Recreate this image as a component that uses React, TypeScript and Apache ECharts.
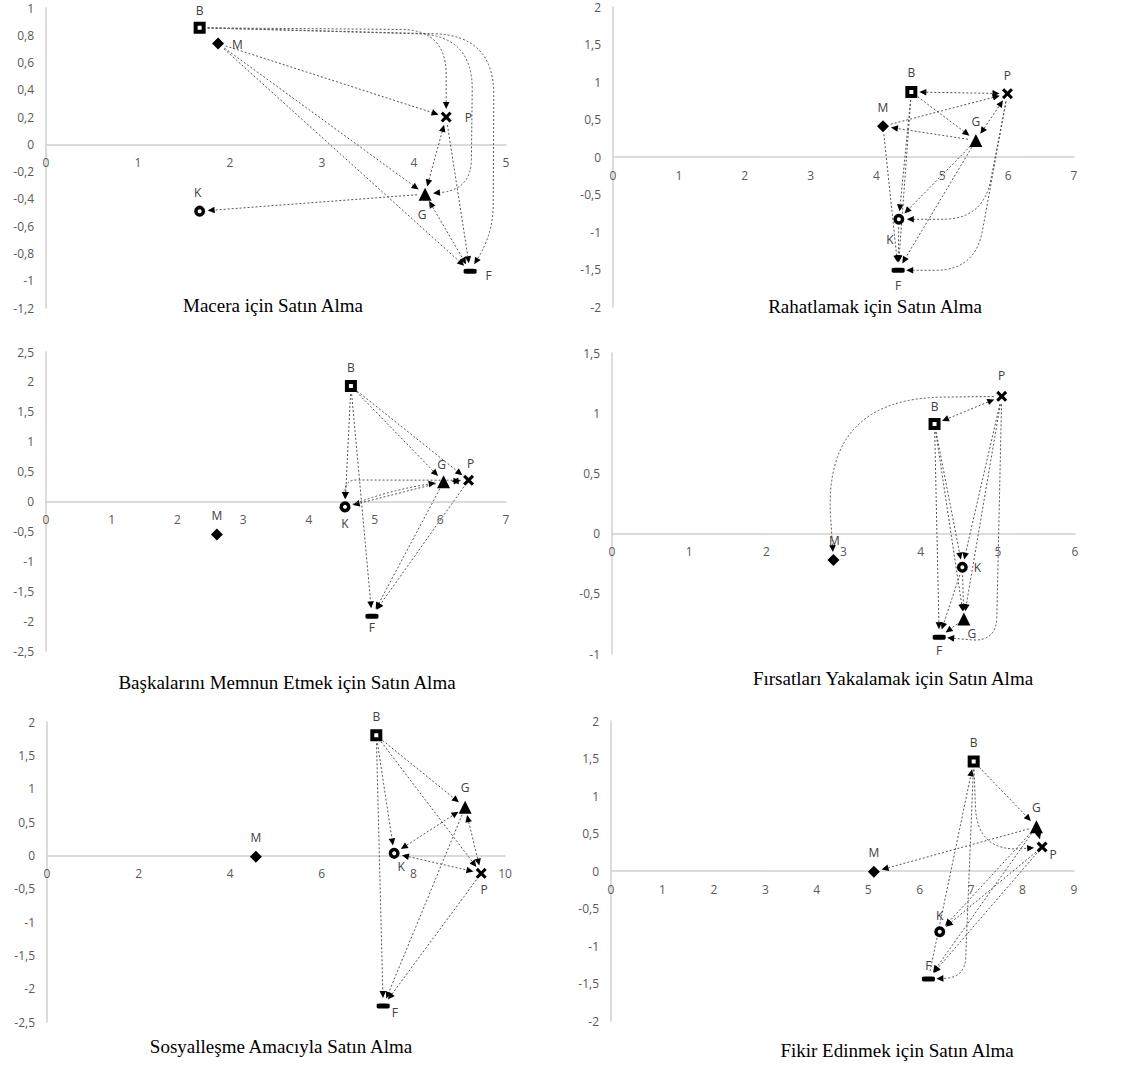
import React, { useEffect, useRef } from "react";
import * as echarts from "echarts";

// ---------- DATA ----------
const pointNames = ["B", "M", "P", "G", "K", "F"];

const titles = [
  "Macera için Satın Alma",
  "Rahatlamak için Satın Alma",
  "Başkalarını Memnun Etmek için Satın Alma",
  "Fırsatları Yakalamak için Satın Alma",
  "Sosyalleşme Amacıyla Satın Alma",
  "Fikir Edinmek için Satın Alma",
];

// x / y values of points in order B, M, P, G, K, F
const maceraX = [1.67, 1.87, 4.35, 4.12, 1.67, 4.61];
const maceraY = [0.855, 0.74, 0.2, -0.365, -0.49, -0.93];
const rahatX = [4.53, 4.1, 5.99, 5.51, 4.34, 4.33];
const rahatY = [0.867, 0.41, 0.845, 0.22, -0.83, -1.51];
const baskaX = [4.64, 2.6, 6.43, 6.05, 4.55, 4.96];
const baskaY = [1.93, -0.55, 0.355, 0.33, -0.09, -1.92];
const firsatX = [4.18, 2.87, 5.05, 4.56, 4.54, 4.24];
const firsatY = [0.91, -0.22, 1.14, -0.71, -0.28, -0.86];
const sosyalX = [7.19, 4.56, 9.48, 9.13, 7.58, 7.34];
const sosyalY = [1.8, -0.02, -0.27, 0.72, 0.03, -2.26];
const fikirX = [7.05, 5.11, 8.38, 8.27, 6.39, 6.17];
const fikirY = [1.46, -0.01, 0.32, 0.59, -0.81, -1.44];

// axis ranges [xMax, xInterval, yMin, yMax, yInterval]
const axisRanges = [
  [5, 1, -1.2, 1, 0.2],
  [7, 1, -2, 2, 0.5],
  [7, 1, -2.5, 2.5, 0.5],
  [6, 1, -1, 1.5, 0.5],
  [10, 2, -2.5, 2, 0.5],
  [9, 1, -2, 2, 0.5],
];

// edges: [from, to, heads (1 = end, 2 = both), bend points, corner radius]
type Edge = [string, string, number, number[][]?, number?];
const maceraEdges: Edge[] = [
  ["B", "P", 1, [[4.35, 0.84]], 45],
  ["B", "G", 1, [[4.64, 0.8], [4.62, -0.33]], 55],
  ["B", "F", 1, [[4.87, 0.8], [4.86, -0.65]], 60],
  ["M", "P", 1],
  ["M", "G", 1],
  ["M", "F", 1],
  ["G", "K", 1],
  ["G", "P", 2],
  ["P", "F", 1],
  ["G", "F", 2],
];
const rahatEdges: Edge[] = [
  ["B", "P", 2],
  ["M", "P", 1],
  ["G", "M", 1],
  ["B", "G", 1],
  ["G", "P", 2],
  ["B", "K", 1],
  ["G", "K", 1],
  ["B", "F", 1],
  ["G", "F", 1],
  ["P", "K", 1, [[5.62, -0.83]], 40],
  ["P", "F", 1, [[5.5, -1.51]], 40],
  ["M", "F", 1],
  ["K", "F", 1],
];
const baskaEdges: Edge[] = [
  ["B", "K", 1],
  ["B", "F", 1],
  ["B", "G", 1],
  ["B", "P", 1],
  ["G", "K", 1],
  ["K", "G", 1, [[5.3, 0.2]], 60],
  ["P", "K", 1, [[4.55, 0.36]], 40],
  ["G", "P", 2],
  ["G", "F", 1],
  ["P", "F", 1],
];
const firsatEdges: Edge[] = [
  ["P", "B", 2],
  ["P", "M", 1, [[2.73, 1.12]], 120],
  ["B", "K", 1],
  ["P", "K", 1],
  ["B", "G", 1],
  ["K", "G", 1],
  ["P", "G", 1],
  ["B", "F", 1],
  ["K", "F", 1],
  ["G", "F", 1],
  ["P", "F", 1, [[4.98, -0.9]], 25],
];
const sosyalEdges: Edge[] = [
  ["B", "K", 1],
  ["B", "G", 1],
  ["B", "P", 1],
  ["B", "F", 1],
  ["K", "G", 2],
  ["K", "P", 2],
  ["G", "P", 2],
  ["G", "F", 1],
  ["P", "F", 1],
];
const fikirEdges: Edge[] = [
  ["B", "G", 1],
  ["G", "M", 1],
  ["F", "B", 1],
  ["B", "P", 1, [[7.12, 0.25]], 45],
  ["B", "F", 1, [[6.88, -1.42]], 20],
  ["G", "K", 1],
  ["P", "K", 1],
  ["G", "F", 1],
  ["P", "F", 1],
  ["G", "P", 1],
];

// ---------- STYLE / LAYOUT ----------
const panelX = [maceraX, rahatX, baskaX, firsatX, sosyalX, fikirX];
const panelY = [maceraY, rahatY, baskaY, firsatY, sosyalY, fikirY];
const panelEdges = [maceraEdges, rahatEdges, baskaEdges, firsatEdges, sosyalEdges, fikirEdges];

const layouts = [
  { left: 46, top: 8, width: 460, height: 300, tx: 273, ty: 305 },
  { left: 613, top: 7, width: 461, height: 300, tx: 875, ty: 306 },
  { left: 46, top: 352, width: 460, height: 299, tx: 287, ty: 682 },
  { left: 612, top: 353, width: 463, height: 301, tx: 893, ty: 678 },
  { left: 47, top: 722, width: 458, height: 300, tx: 281, ty: 1046 },
  { left: 611, top: 721, width: 463, height: 300, tx: 897, ty: 1050 },
];

type LabelPos = [string, number[]];
const labelPos: Record<string, LabelPos>[] = [
  { B: ["top", [0, 0]], M: ["right", [3, 1]], P: ["right", [8, 0]], G: ["bottom", [-3, 3]], K: ["top", [-2, -2]], F: ["right", [4, 4]] },
  { B: ["top", [0, -2]], M: ["top", [0, -2]], P: ["top", [0, -2]], G: ["top", [0, -2]], K: ["bottom", [-9, 4]], F: ["bottom", [0, 2]] },
  { B: ["top", [0, -2]], M: ["top", [0, -2]], P: ["top", [2, 0]], G: ["top", [-2, 0]], K: ["bottom", [0, 0]], F: ["bottom", [0, -2]] },
  { B: ["top", [0, -1]], M: ["top", [1, -3]], P: ["top", [0, -4]], G: ["bottom", [8, -3]], K: ["right", [1, 0]], F: ["bottom", [0, 0]] },
  { B: ["top", [0, -2]], M: ["top", [0, -2]], P: ["bottom", [3, 0]], G: ["top", [0, -2]], K: ["bottom", [7, -3]], F: ["right", [-3, 6]] },
  { B: ["top", [0, -2]], M: ["top", [0, -2]], P: ["right", [-3, 7]], G: ["top", [0, -2]], K: ["top", [0, 0]], F: ["top", [0, 0]] },
];

const symbolStyles: Record<string, any> = {
  B: { symbol: "rect", symbolSize: 8, itemStyle: { color: "#ffffff", borderColor: "#000", borderWidth: 4, opacity: 1 } },
  M: { symbol: "diamond", symbolSize: 12, itemStyle: { color: "#000", opacity: 1 } },
  P: {
    symbol: "path://M0,2 L2,0 L5,3 L8,0 L10,2 L7,5 L10,8 L8,10 L5,7 L2,10 L0,8 L3,5 Z",
    symbolSize: 11,
    itemStyle: { color: "#000", opacity: 1 },
  },
  G: { symbol: "triangle", symbolSize: 13, itemStyle: { color: "#000", opacity: 1 } },
  K: { symbol: "circle", symbolSize: 7.5, itemStyle: { color: "#ffffff", borderColor: "#000", borderWidth: 3.5, opacity: 1 } },
  F: { symbol: "roundRect", symbolSize: [13, 5], itemStyle: { color: "#000", opacity: 1 } },
};

const fmt = (v: number) => String(Math.round(v * 100) / 100).replace(".", ",");

function unit(a: number[], b: number[]) {
  const dx = b[0] - a[0];
  const dy = b[1] - a[1];
  const l = Math.hypot(dx, dy) || 1;
  return [dx / l, dy / l];
}

function makeRender(edges: Edge[], xs: number[], ys: number[]) {
  return (params: any, api: any) => {
    const e = edges[params.dataIndex];
    const i1 = pointNames.indexOf(e[0]);
    const i2 = pointNames.indexOf(e[1]);
    const p1 = api.coord([xs[i1], ys[i1]]);
    const p2 = api.coord([xs[i2], ys[i2]]);
    const vias = (e[3] || []).map((v) => api.coord(v));
    const radius = e[4] ?? 40;
    const pts = [p1, ...vias, p2];
    const gap = 8;
    const head = 7;
    const half = 3.3;
    const dStart = unit(pts[0], pts[1]);
    const dEnd = unit(pts[pts.length - 2], pts[pts.length - 1]);
    const tipEnd = [p2[0] - dEnd[0] * gap, p2[1] - dEnd[1] * gap];
    const baseEnd = [tipEnd[0] - dEnd[0] * head, tipEnd[1] - dEnd[1] * head];
    let start = [p1[0] + dStart[0] * gap, p1[1] + dStart[1] * gap];
    const arrow = (tip: number[], d: number[]) => ({
      type: "polygon",
      shape: {
        points: [
          tip,
          [tip[0] - d[0] * head - d[1] * half, tip[1] - d[1] * head + d[0] * half],
          [tip[0] - d[0] * head + d[1] * half, tip[1] - d[1] * head - d[0] * half],
        ],
      },
      style: { fill: "#000" },
    });
    const children: any[] = [];
    children.push(arrow(tipEnd, dEnd));
    if (e[2] === 2) {
      children.push(arrow(start, [-dStart[0], -dStart[1]]));
      start = [start[0] + dStart[0] * head, start[1] + dStart[1] * head];
    }
    const seq = [start, ...vias, baseEnd];
    let path = `M${seq[0][0]},${seq[0][1]}`;
    for (let k = 1; k < seq.length - 1; k++) {
      const A = seq[k - 1];
      const V = seq[k];
      const B = seq[k + 1];
      const dIn = unit(A, V);
      const dOut = unit(V, B);
      const lin = Math.hypot(V[0] - A[0], V[1] - A[1]);
      const lout = Math.hypot(B[0] - V[0], B[1] - V[1]);
      const r = Math.min(radius, lin * (k === 1 ? 0.95 : 0.5), lout * (k === seq.length - 2 ? 0.95 : 0.5));
      path += ` L${V[0] - dIn[0] * r},${V[1] - dIn[1] * r} Q${V[0]},${V[1]} ${V[0] + dOut[0] * r},${V[1] + dOut[1] * r}`;
    }
    path += ` L${baseEnd[0]},${baseEnd[1]}`;
    children.unshift({
      type: "path",
      shape: { pathData: path },
      style: { fill: "none", stroke: "#555555", lineWidth: 1, lineDash: [2, 2] },
    });
    return { type: "group", children };
  };
}

function buildOption() {
  const grid: any[] = [];
  const xAxis: any[] = [];
  const yAxis: any[] = [];
  const series: any[] = [];
  const graphic: any[] = [];
  const axisLabelStyle = { color: "#595959", fontSize: 12, fontFamily: "'Open Sans', sans-serif" };
  for (let i = 0; i < 6; i++) {
    const L = layouts[i];
    const [xMax, xInt, yMin, yMax, yInt] = axisRanges[i];
    // shift the horizontal axis up from the grid bottom to y = 0
    const zeroOffset = -L.height * (0 - yMin) / (yMax - yMin);
    grid.push({ left: L.left, top: L.top, width: L.width, height: L.height, containLabel: false });
    xAxis.push({
      type: "value",
      gridIndex: i,
      position: "bottom",
      offset: zeroOffset,
      min: 0,
      max: xMax,
      interval: xInt,
      axisLine: { show: true, onZero: false, lineStyle: { color: "#d0d0d0", width: 1.5 } },
      axisTick: { show: false },
      splitLine: { show: false },
      axisLabel: { ...axisLabelStyle, margin: 12, formatter: fmt },
    });
    yAxis.push({
      type: "value",
      gridIndex: i,
      position: "left",
      min: yMin,
      max: yMax,
      interval: yInt,
      axisLine: { show: true, onZero: false, lineStyle: { color: "#d0d0d0", width: 1.5 } },
      axisTick: { show: false },
      splitLine: { show: false },
      axisLabel: { ...axisLabelStyle, margin: 12, formatter: fmt },
    });
    const xs = panelX[i];
    const ys = panelY[i];
    const edges = panelEdges[i];
    series.push({
      type: "custom",
      xAxisIndex: i,
      yAxisIndex: i,
      coordinateSystem: "cartesian2d",
      silent: true,
      z: 2,
      data: edges.map((e) => {
        const k = pointNames.indexOf(e[0]);
        return [xs[k], ys[k]];
      }),
      renderItem: makeRender(edges, xs, ys),
    });
    series.push({
      type: "scatter",
      xAxisIndex: i,
      yAxisIndex: i,
      z: 3,
      itemStyle: { opacity: 1 },
      data: pointNames.map((n, k) => {
        const lp = labelPos[i][n];
        return {
          name: n,
          value: [xs[k], ys[k]],
          ...symbolStyles[n],
          label: {
            show: true,
            formatter: n,
            position: lp[0],
            offset: lp[1],
            color: "#404040",
            fontSize: 12,
            fontFamily: "'Open Sans', sans-serif",
          },
        };
      }),
    });
    graphic.push({
      type: "text",
      x: L.tx,
      y: L.ty,
      style: {
        text: titles[i],
        fill: "#000",
        font: "19px 'Liberation Serif', 'Times New Roman', serif",
        textAlign: "center",
        textVerticalAlign: "middle",
      },
    });
  }
  return { animation: false, backgroundColor: "#ffffff", grid, xAxis, yAxis, series, graphic };
}

export default function App() {
  const ref = useRef<HTMLDivElement>(null);
  useEffect(() => {
    if (!ref.current) return;
    const chart = echarts.init(ref.current, null, { renderer: "svg" });
    chart.setOption(buildOption() as any);
    return () => chart.dispose();
  }, []);
  return (
    <div
      ref={ref}
      style={{ position: "absolute", left: 0, top: 0, width: 1133, height: 1065, background: "#fff" }}
    />
  );
}
